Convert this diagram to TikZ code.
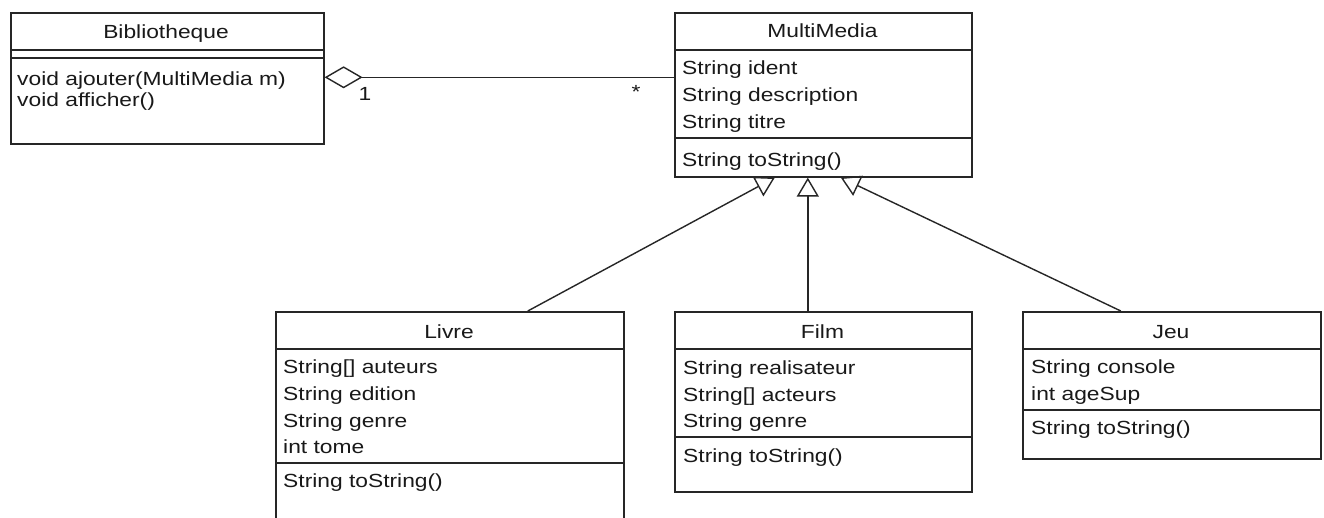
\documentclass[tikz,border=0pt]{standalone}
\usepackage{fontspec}
\setmainfont{Liberation Sans}[FakeStretch=1.2]
\usetikzlibrary{arrows.meta,calc}
\begin{document}
\begin{tikzpicture}[x=1pt,y=-1pt,
  cls/.style={draw=black!85, line width=1.6pt, rectangle, inner sep=0pt, anchor=north west},
  ttl/.style={font=\fontsize{19pt}{23pt}\selectfont, anchor=center, inner sep=0pt, text height=13.5pt, text depth=0pt, text=black!90},
  mem/.style={font=\fontsize{19pt}{23pt}\selectfont, anchor=west, inner sep=0pt, text height=13.5pt, text depth=0pt, text=black!90},
  sep/.style={draw=black!85, line width=1.5pt},
  conn/.style={draw=black!85, line width=1.4pt},
  inh/.style={conn, -{Triangle[open,length=19pt,width=22pt]}},
  agg/.style={conn, -{Diamond[open,length=38pt,width=22pt]}}]
\useasboundingbox (0,0) rectangle (1324,517);
\fill[white] (0,0) rectangle (1324,517);
\clip (0,0) rectangle (1324,517);

% Bibliotheque
\node[cls, minimum width=313pt, minimum height=131pt] (bib) at (10,12) {};
\node[ttl] (bibT) at (166,32) {Bibliotheque};
\draw[sep] (bib.west |- 0,50) -- (bib.east |- 0,50);
\draw[sep] (bib.west |- 0,58) -- (bib.east |- 0,58);
\node[mem] (bib1) at (17,79) {void ajouter(MultiMedia m)};
\node[mem] (bib2) at (17,100) {void afficher()};

% MultiMedia
\node[cls, minimum width=297pt, minimum height=164pt] (mm) at (674,12) {};
\node[ttl] (mmT) at (822.5,31) {MultiMedia};
\draw[sep] (mm.west |- 0,50) -- (mm.east |- 0,50);
\draw[sep] (mm.west |- 0,138) -- (mm.east |- 0,138);
\node[mem] (mm1) at (682,68) {String ident};
\node[mem] (mm2) at (682,95) {String description};
\node[mem] (mm3) at (682,122) {String titre};
\node[mem] (mm4) at (682,160) {String toString()};

% Livre
\node[cls, minimum width=348pt, minimum height=230pt] (livre) at (275,311) {};
\node[ttl] (livreT) at (449,332) {Livre};
\draw[sep] (livre.west |- 0,349) -- (livre.east |- 0,349);
\draw[sep] (livre.west |- 0,463) -- (livre.east |- 0,463);
\node[mem] (l1) at (283,367) {String[] auteurs};
\node[mem] (l2) at (283,394) {String edition};
\node[mem] (l3) at (283,421) {String genre};
\node[mem] (l4) at (283,447) {int tome};
\node[mem] (l5) at (283,481) {String toString()};

% Film
\node[cls, minimum width=297pt, minimum height=180pt] (film) at (674,311) {};
\node[ttl] (filmT) at (822.5,332) {Film};
\draw[sep] (film.west |- 0,349) -- (film.east |- 0,349);
\draw[sep] (film.west |- 0,437) -- (film.east |- 0,437);
\node[mem] (f1) at (683,368) {String realisateur};
\node[mem] (f2) at (683,395) {String[] acteurs};
\node[mem] (f3) at (683,421) {String genre};
\node[mem] (f4) at (683,456) {String toString()};

% Jeu
\node[cls, minimum width=298pt, minimum height=147pt] (jeu) at (1022,311) {};
\node[ttl] (jeuT) at (1171,332) {Jeu};
\draw[sep] (jeu.west |- 0,349) -- (jeu.east |- 0,349);
\draw[sep] (jeu.west |- 0,410) -- (jeu.east |- 0,410);
\node[mem] (j1) at (1031,367) {String console};
\node[mem] (j2) at (1031,394) {int ageSup};
\node[mem] (j3) at (1031,428) {String toString()};

% connector points
\coordinate (livreTop) at ([xshift=78pt]livre.north);
\coordinate (filmTop) at ([xshift=-15.5pt]film.north);
\coordinate (jeuTop) at ([xshift=-51pt]jeu.north);
\coordinate (mmA) at ([xshift=-48.5pt]mm.south);
\coordinate (mmB) at ([xshift=-15.5pt]mm.south);
\coordinate (mmC) at ([xshift=17.5pt]mm.south);
\coordinate (bibE) at ([yshift=1pt]bib.east);

% aggregation
\draw[agg] (bibE -| mm.west) -- (bibE);
\node[mem, anchor=center] (one) at (365,94) {1};
\node[mem, anchor=center] (star) at (636,92) {*};

% generalizations
\draw[inh] (livreTop) -- (mmA);
\draw[inh] (filmTop) -- (mmB);
\draw[inh] (jeuTop) -- (mmC);
\end{tikzpicture}
\end{document}
